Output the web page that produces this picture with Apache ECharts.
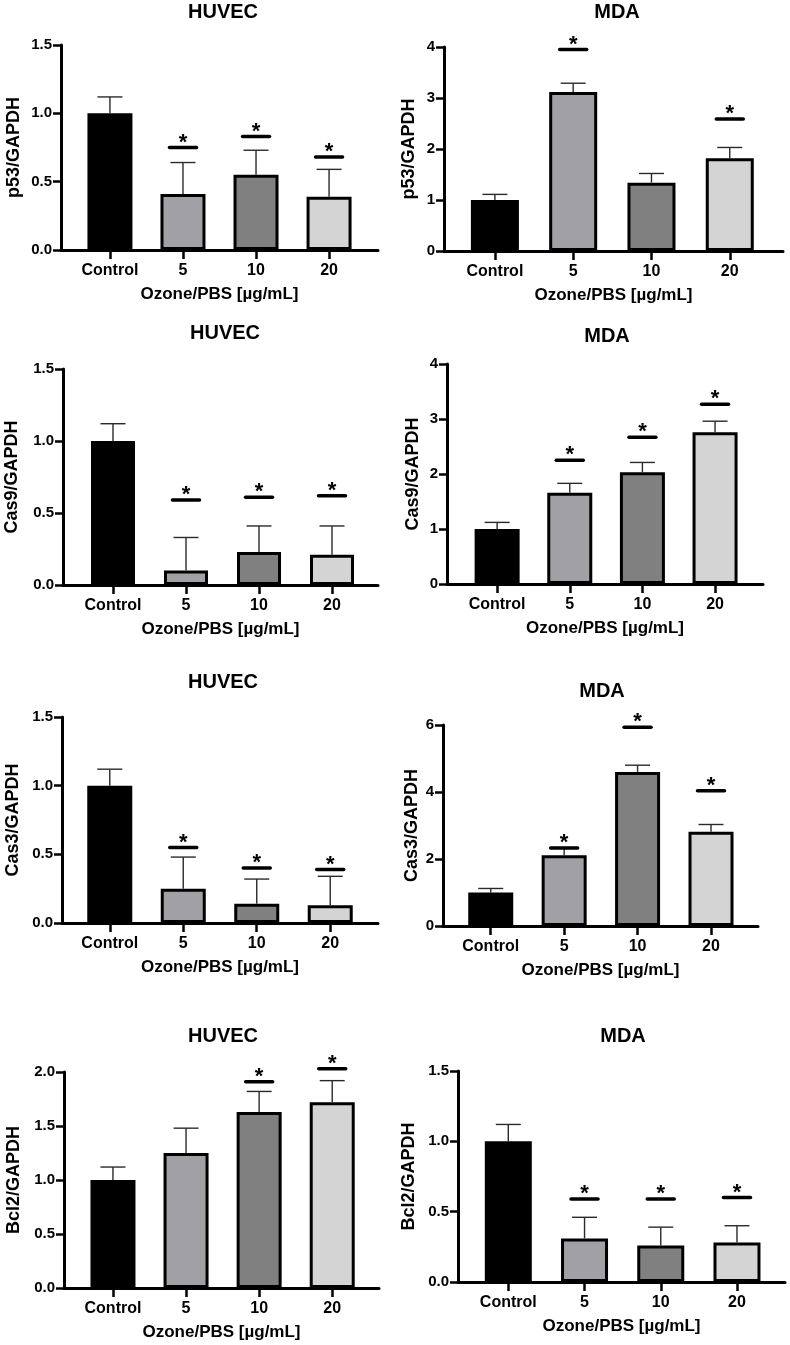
<!DOCTYPE html>
<html>
<head>
<meta charset="utf-8">
<script src="https://cdn.jsdelivr.net/npm/echarts@6/dist/echarts.min.js"></script>
<style>
html, body { margin: 0; padding: 0; background: #fff; }
#main { width: 790px; height: 1345px; }
</style>
</head>
<body>
<div id="main"></div>
<script>
// groups on the x axis
const categories = ['Control', '5', '10', '20'];

// bar heights (mean), top of error bar, height of the significance line (null = none)
const p53Huvec = [1.0, 0.41, 0.55, 0.39];
const p53HuvecErr = [1.12, 0.64, 0.73, 0.59];
const p53HuvecSig = [null, 0.75, 0.83, 0.68];

const p53Mda = [1.0, 3.12, 1.34, 1.82];
const p53MdaErr = [1.11, 3.29, 1.52, 2.03];
const p53MdaSig = [null, 3.95, null, 2.59];

const cas9Huvec = [1.0, 0.10, 0.23, 0.21];
const cas9HuvecErr = [1.12, 0.33, 0.41, 0.41];
const cas9HuvecSig = [null, 0.59, 0.61, 0.62];

const cas9Mda = [1.0, 1.66, 2.03, 2.76];
const cas9MdaErr = [1.12, 1.83, 2.21, 2.96];
const cas9MdaSig = [null, 2.25, 2.67, 3.27];

const cas3Huvec = [1.0, 0.25, 0.14, 0.13];
const cas3HuvecErr = [1.12, 0.48, 0.32, 0.34];
const cas3HuvecSig = [null, 0.55, 0.40, 0.39];

const cas3Mda = [1.0, 2.11, 4.6, 2.81];
const cas3MdaErr = [1.12, 2.34, 4.8, 3.03];
const cas3MdaSig = [null, 2.33, 5.93, 4.04];

const bcl2Huvec = [1.0, 1.25, 1.63, 1.72];
const bcl2HuvecErr = [1.12, 1.48, 1.82, 1.92];
const bcl2HuvecSig = [null, null, 1.91, 2.03];

const bcl2Mda = [1.0, 0.31, 0.26, 0.28];
const bcl2MdaErr = [1.12, 0.46, 0.39, 0.40];
const bcl2MdaSig = [null, 0.59, 0.59, 0.60];

// y tick values
const ticks15 = [0, 0.5, 1.0, 1.5];
const ticks4 = [0, 1, 2, 3, 4];
const ticks6 = [0, 2, 4, 6];
const ticks20 = [0, 0.5, 1.0, 1.5, 2.0];

const xName = 'Ozone/PBS [µg/mL]';

const panels = [
    { title: 'HUVEC', yName: 'p53/GAPDH', means: p53Huvec, errs: p53HuvecErr, sig: p53HuvecSig, ticks: ticks15, dec: 1 },
    { title: 'MDA', yName: 'p53/GAPDH', means: p53Mda, errs: p53MdaErr, sig: p53MdaSig, ticks: ticks4, dec: 0 },
    { title: 'HUVEC', yName: 'Cas9/GAPDH', means: cas9Huvec, errs: cas9HuvecErr, sig: cas9HuvecSig, ticks: ticks15, dec: 1 },
    { title: 'MDA', yName: 'Cas9/GAPDH', means: cas9Mda, errs: cas9MdaErr, sig: cas9MdaSig, ticks: ticks4, dec: 0 },
    { title: 'HUVEC', yName: 'Cas3/GAPDH', means: cas3Huvec, errs: cas3HuvecErr, sig: cas3HuvecSig, ticks: ticks15, dec: 1 },
    { title: 'MDA', yName: 'Cas3/GAPDH', means: cas3Mda, errs: cas3MdaErr, sig: cas3MdaSig, ticks: ticks6, dec: 0 },
    { title: 'HUVEC', yName: 'Bcl2/GAPDH', means: bcl2Huvec, errs: bcl2HuvecErr, sig: bcl2HuvecSig, ticks: ticks20, dec: 1 },
    { title: 'MDA', yName: 'Bcl2/GAPDH', means: bcl2Mda, errs: bcl2MdaErr, sig: bcl2MdaSig, ticks: ticks15, dec: 1 }
];

// where each panel sits on the page
const layout = [
    { left: 61, top: 45, width: 317, height: 205, xMin: -0.67, xMax: 3.67, barW: 45, gap: 38, tx: 223, ty: 13 },
    { left: 444, top: 47, width: 339, height: 204, xMin: -0.65, xMax: 3.68, barW: 48, gap: 26, tx: 617, ty: 13 },
    { left: 63, top: 369, width: 315, height: 216, xMin: -0.685, xMax: 3.63, barW: 44, gap: 42, tx: 225, ty: 334 },
    { left: 447, top: 364, width: 316, height: 220, xMin: -0.69, xMax: 3.66, barW: 45, gap: 25, tx: 607, ty: 337 },
    { left: 62, top: 717, width: 316, height: 206, xMin: -0.65, xMax: 3.65, barW: 45, gap: 40, tx: 223, ty: 683 },
    { left: 443, top: 725, width: 315, height: 201, xMin: -0.65, xMax: 3.64, barW: 45, gap: 22, tx: 602, ty: 692 },
    { left: 64, top: 1072, width: 315, height: 216, xMin: -0.67, xMax: 3.64, barW: 45, gap: 41, tx: 223, ty: 1037 },
    { left: 458, top: 1071, width: 327, height: 211, xMin: -0.66, xMax: 3.63, barW: 47, gap: 40, tx: 623, ty: 1037 }
];

const barColors = ['#000000', '#a1a1a5', '#808080', '#d4d4d4'];
const FONT = '"Liberation Sans", Arial, Helvetica, sans-serif';

var chart = echarts.init(document.getElementById('main'));

var grids = [], xAxes = [], yAxes = [], titles = [], series = [];

panels.forEach(function (p, i) {
    var L = layout[i];
    var t = p.ticks;
    grids.push({ left: L.left, top: L.top, width: L.width, height: L.height });
    titles.push({
        text: p.title,
        left: L.tx,
        top: L.ty - 11,
        textAlign: 'center',
        padding: 0,
        textStyle: { fontFamily: FONT, fontWeight: 'bold', fontSize: 20, color: '#000' }
    });
    xAxes.push({
        type: 'value',
        gridIndex: i,
        min: L.xMin,
        max: L.xMax,
        name: xName,
        nameLocation: 'middle',
        nameGap: 36,
        nameTextStyle: { fontFamily: FONT, fontWeight: 'bold', fontSize: 17, color: '#000' },
        axisLine: { show: true, onZero: false, lineStyle: { color: '#000', width: 3 } },
        axisTick: { show: true, length: 9, customValues: [0, 1, 2, 3], lineStyle: { color: '#000', width: 2.5 } },
        axisLabel: {
            customValues: [0, 1, 2, 3],
            margin: 13,
            fontFamily: FONT, fontWeight: 'bold', fontSize: 16, color: '#000',
            formatter: function (v) { return categories[Math.round(v)]; }
        },
        splitLine: { show: false }
    });
    yAxes.push({
        type: 'value',
        gridIndex: i,
        min: t[0],
        max: t[t.length - 1],
        interval: t[1] - t[0],
        name: p.yName,
        nameLocation: 'middle',
        nameGap: L.gap,
        nameTextStyle: { fontFamily: FONT, fontWeight: 'bold', fontSize: 18, color: '#000' },
        axisLine: { show: true, onZero: false, lineStyle: { color: '#000', width: 3 } },
        axisTick: { show: true, length: 8, lineStyle: { color: '#000', width: 2.5 } },
        axisLabel: {
            margin: 9,
            fontFamily: FONT, fontWeight: 'bold', fontSize: 15, color: '#000',
            formatter: function (v) { return v.toFixed(p.dec); }
        },
        splitLine: { show: false }
    });

    series.push({
        type: 'bar',
        xAxisIndex: i,
        yAxisIndex: i,
        barWidth: L.barW,
        silent: true,
        data: p.means.map(function (m, k) {
            return { value: [k, m], itemStyle: { color: barColors[k], borderColor: '#000', borderWidth: 3 } };
        }),
        z: 2
    });

    // upper error bars
    series.push({
        type: 'custom',
        xAxisIndex: i,
        yAxisIndex: i,
        silent: true,
        encode: { x: 0, y: [1, 2] },
        data: p.means.map(function (m, k) { return [k, m, p.errs[k]]; }),
        renderItem: function (params, api) {
            var a = api.coord([api.value(0), api.value(1)]);
            var b = api.coord([api.value(0), api.value(2)]);
            var st = { stroke: '#2a2a2a', lineWidth: 1.4 };
            return {
                type: 'group',
                children: [
                    { type: 'line', shape: { x1: a[0], y1: a[1], x2: b[0], y2: b[1] }, style: st },
                    { type: 'line', shape: { x1: b[0] - 12.5, y1: b[1], x2: b[0] + 12.5, y2: b[1] }, style: st }
                ]
            };
        },
        z: 3
    });

    // significance marks
    var sigData = [];
    p.sig.forEach(function (s, k) { if (s !== null) sigData.push([k, s]); });
    series.push({
        type: 'custom',
        xAxisIndex: i,
        yAxisIndex: i,
        silent: true,
        encode: { x: 0, y: 1 },
        data: sigData,
        renderItem: function (params, api) {
            var c = api.coord([api.value(0), api.value(1)]);
            return {
                type: 'group',
                children: [
                    {
                        type: 'line',
                        shape: { x1: c[0] - 13.5, y1: c[1], x2: c[0] + 13.5, y2: c[1] },
                        style: { stroke: '#000', lineWidth: 3.5, lineCap: 'round' }
                    },
                    {
                        type: 'text',
                        x: c[0],
                        y: c[1] - 5,
                        style: {
                            text: '*',
                            fill: '#000',
                            font: 'bold 22px ' + FONT,
                            textAlign: 'center',
                            textVerticalAlign: 'middle'
                        }
                    }
                ]
            };
        },
        z: 4
    });
});

var option = {
    backgroundColor: '#fff',
    animation: false,
    title: titles,
    grid: grids,
    xAxis: xAxes,
    yAxis: yAxes,
    series: series
};

chart.setOption(option);

window.onresize = function () {
    chart.resize();
};
</script>
</body>
</html>
